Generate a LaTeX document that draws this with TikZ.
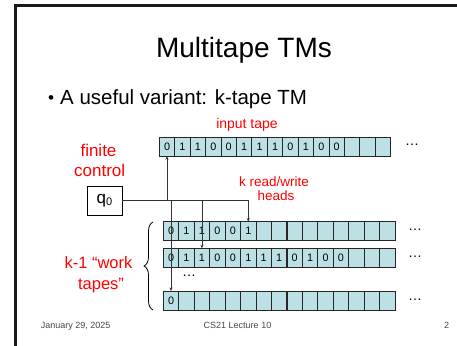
\documentclass[tikz,border=0pt]{standalone}
\usepackage{fontspec}
\setmainfont{Liberation Sans}
\usetikzlibrary{arrows.meta,decorations.pathreplacing}
\definecolor{tapefill}{RGB}{188,224,228}
\definecolor{labelred}{RGB}{255,0,0}
\definecolor{footgray}{RGB}{70,70,70}
\tikzset{
  cell/.style={draw=black!85, line width=0.8pt, fill=tapefill, minimum width=15.43pt,
    minimum height=19pt, inner sep=0pt, outer sep=0pt, font=\fontsize{10.8}{10.8}\selectfont},
  redlabel/.style={text=labelred, align=center, inner sep=0pt},
  head/.style={draw=black!80, line width=0.6pt, -{Stealth[length=3.5pt,width=3pt]}},
  dots/.style={inner sep=0pt, font=\fontsize{14}{14}\selectfont},
  foot/.style={text=footgray, anchor=base, inner sep=0pt, font=\fontsize{9}{9}\selectfont}
}
\begin{document}
\begin{tikzpicture}[x=1pt,y=-1pt]
\useasboundingbox (0,0) rectangle (457,345);
% slide frame (top and left edges)
\draw[line width=2.7pt, black!90, line join=miter] (15.3,346) -- (15.3,5.3) -- (458,5.3);

% title and bullet
\node[anchor=base, inner sep=0pt, font=\fontsize{28}{30}\selectfont] (title) at (244,57) {Multitape TMs};
\node[anchor=base, inner sep=0pt, font=\fontsize{17}{20}\selectfont] (bullet) at (51,103) {•};
\node[anchor=base west, inner sep=0pt, font=\fontsize{20.5}{23}\selectfont] (variant) at (60,104) {A useful variant: k-tape TM};

% input tape
\foreach \d [count=\i from 0] in {0,1,1,0,0,1,1,1,0,1,0,0,{},{},{}}
  \node[cell] (in\i) at ({159.3+(\i+0.5)*15.43},146.7) {\d};
\node[dots] (indots) at (412,145) {…};
\node[redlabel, anchor=base, font=\fontsize{14}{14}\selectfont] (inlabel) at (247,128) {input tape};

% work tapes
\foreach \d [count=\i from 0] in {0,1,1,0,0,1,{},{},{},{},{},{},{},{},{}}
  \node[cell] (wa\i) at ({163.3+(\i+0.5)*15.45},231.2) {\d};
\foreach \d [count=\i from 0] in {0,1,1,0,0,1,1,1,0,1,0,0,{},{},{}}
  \node[cell] (wb\i) at ({163.3+(\i+0.5)*15.45},257.8) {\d};
\foreach \d [count=\i from 0] in {0,{},{},{},{},{},{},{},{},{},{},{},{},{},{}}
  \node[cell] (wc\i) at ({163.3+(\i+0.5)*15.45},300.5) {\d};
\node[dots] (wadots) at (415,230) {…};
\node[dots] (wbdots) at (415,256.5) {…};
\node[dots] (wcdots) at (415,299.5) {…};
\node[dots] (middots) at (189,275.5) {…};

% finite control
\node[draw=black, line width=0.8pt, minimum width=35pt, minimum height=29pt, inner sep=0pt,
  font=\fontsize{17}{17}\selectfont] (q) at (104.5,200.5) {q\raisebox{-2.5pt}{\fontsize{11}{11}\selectfont 0}};
\node[redlabel, anchor=base, font=\fontsize{17}{20}\selectfont] (fc1) at (98.5,156.7) {finite};
\node[redlabel, anchor=base, font=\fontsize{17}{20}\selectfont] (fc2) at (99.7,176.7) {control};

% read/write heads
\node[redlabel, anchor=base, font=\fontsize{13.5}{14}\selectfont] (rw1) at (274,186.7) {k read/write};
\node[redlabel, anchor=base, font=\fontsize{13.5}{14}\selectfont] (rw2) at (276,200.7) {heads};
\draw[head] (q.east) -- (wa5 |- q.east) -- (wa5.north);
\draw[head] (in0 |- q.east) -- (in0.south);
\draw[head] (wb2 |- q.east) -- (wb2.north);
\draw[head] (wc0 |- q.east) -- (wc0.north);

% work tape brace and label
\draw[line width=0.8pt, decorate, decoration={brace, amplitude=9pt}] (153,310) -- (153,222);
\node[redlabel, anchor=base, font=\fontsize{16.5}{18}\selectfont] (wt1) at (98.5,268) {k-1 “work};
\node[redlabel, anchor=base, font=\fontsize{16.5}{18}\selectfont] (wt2) at (101,289) {tapes”};

% footer
\node[foot, anchor=base west] (date) at (40.7,328.3) {January 29, 2025};
\node[foot] (course) at (237.5,328.3) {CS21 Lecture 10};
\node[foot] (page) at (446.7,328.3) {2};
\end{tikzpicture}
\end{document}
